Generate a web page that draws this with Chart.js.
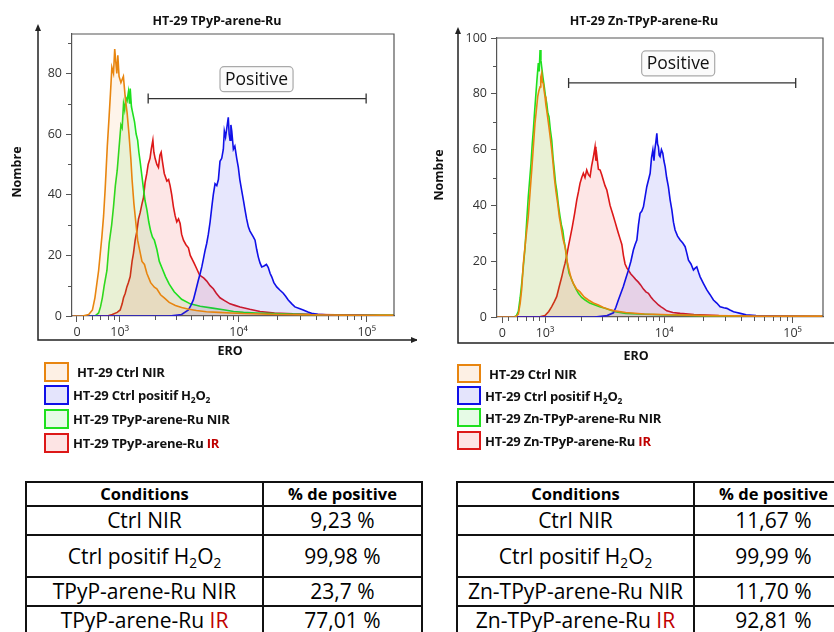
<!DOCTYPE html>
<html>
<head>
<meta charset="utf-8">
<script src="https://cdn.jsdelivr.net/npm/chart.js@4.4.1/dist/chart.umd.min.js"></script>
<style>
  body { margin:0; width:834px; height:632px; overflow:hidden; background:#fff; position:relative; font-family:'Open Sans', sans-serif; }
  canvas { position:absolute; top:0; }
  #c1 { left:0; }
  #c2 { left:417px; }
  .lg { position:absolute; display:flex; align-items:center; white-space:nowrap; font-weight:bold; font-size:13px; color:#111; letter-spacing:-0.2px; }
  .lg .sw { box-sizing:border-box; border:2px solid; margin-right:4px; }
  .ir { color:#c00000; }
  table.tb { position:absolute; border-collapse:collapse; table-layout:fixed; width:396px; }
  table.tb td, table.tb th { border:2px solid #111; padding:0; text-align:center; vertical-align:middle; white-space:nowrap; line-height:1; }
  table.tb th { font-size:16.5px; font-weight:bold; }
  table.tb td { font-size:21px; font-weight:normal; }
  sub { font-size:0.65em; vertical-align:-0.3em; line-height:0; }
</style>
</head>
<body>
<canvas id="c1" width="417" height="368"></canvas>
<canvas id="c2" width="417" height="368"></canvas>
<script>
// x axis is in display units of the cytometer's logicle scale (10^3 -> 3, 10^4 -> ~4, 10^5 -> ~5)
const xTickPos = [2.655, 3, 3.96, 4.995];
const xTickLabels = ['0', '10³', '10⁴', '10⁵'];
const yTicks1 = [0, 20, 40, 60, 80];
const yTicks2 = [0, 20, 40, 60, 80, 100];

const names1 = ['HT-29 Ctrl NIR', 'HT-29 Ctrl positif H<sub>2</sub>O<sub>2</sub>', 'HT-29 TPyP-arene-Ru NIR', 'HT-29 TPyP-arene-Ru <span class="ir">IR</span>'];
const names2 = ['HT-29 Ctrl NIR', 'HT-29 Ctrl positif H<sub>2</sub>O<sub>2</sub>', 'HT-29 Zn-TPyP-arene-Ru NIR', 'HT-29 Zn-TPyP-arene-Ru <span class="ir">IR</span>'];

const conditions1 = ['Ctrl NIR', 'Ctrl positif H<sub>2</sub>O<sub>2</sub>', 'TPyP-arene-Ru NIR', 'TPyP-arene-Ru <span class="ir">IR</span>'];
const positive1 = ['9,23 %', '99,98 %', '23,7 %', '77,01 %'];
const conditions2 = ['Ctrl NIR', 'Ctrl positif H<sub>2</sub>O<sub>2</sub>', 'Zn-TPyP-arene-Ru NIR', 'Zn-TPyP-arene-Ru <span class="ir">IR</span>'];
const positive2 = ['11,67 %', '99,99 %', '11,70 %', '92,81 %'];

// gate "Positive": [start, end, level], label centre [x, y]
const gate1 = [3.23, 4.99, 71.7], gateLabel1 = [4.105, 78.1];
const gate2 = [3.19, 5.02, 83.9], gateLabel2 = [4.073, 90.9];

// ---- chart 1 : HT-29 TPyP-arene-Ru ----
const ctrlNir1 = [[2.62,0],[2.70,0],[2.75,0.5],[2.78,2],[2.80,6],[2.83,15],[2.856,26],[2.87,33],[2.883,42],[2.90,56],[2.915,66],[2.925,73],[2.937,82],[2.95,80],[2.96,88],[2.968,84],[2.977,80],[2.985,86],[2.995,79],[3.01,77],[3.03,79],[3.045,72],[3.06,67],[3.075,60],[3.09,52],[3.10,45],[3.115,37],[3.13,31],[3.145,25],[3.16,22],[3.18,18],[3.20,17],[3.22,14],[3.25,11],[3.28,9.5],[3.30,9],[3.33,7],[3.36,6],[3.40,4.5],[3.45,3.5],[3.50,2.8],[3.55,2.3],[3.62,1.8],[3.70,1.4],[3.80,1.2],[3.90,1],[4.0,0.8],[4.2,0.6],[4.5,0.4],[4.8,0.3],[5.0,0.2],[5.22,0.2]];
const ctrlH2o2_1 = [[2.62,0],[3.40,0],[3.50,0.5],[3.555,2],[3.575,3.5],[3.595,5.3],[3.615,8.5],[3.635,11.8],[3.65,14],[3.663,16.2],[3.677,19],[3.69,21.7],[3.703,24],[3.716,27],[3.73,31],[3.744,36],[3.756,40],[3.77,43.6],[3.784,43],[3.797,45],[3.81,51],[3.824,52],[3.837,55],[3.845,61],[3.855,59],[3.865,62],[3.877,65.5],[3.884,60],[3.891,58],[3.898,63],[3.905,61],[3.918,55],[3.93,56],[3.945,52],[3.958,49],[3.97,45],[3.985,41.4],[4.0,38],[4.012,35],[4.025,32],[4.039,29.4],[4.052,28],[4.066,27],[4.08,26],[4.093,25],[4.106,22],[4.119,19.5],[4.133,17.5],[4.147,16.2],[4.165,16.5],[4.185,17],[4.2,16],[4.215,14],[4.227,13],[4.245,11],[4.268,9.6],[4.295,8.5],[4.321,7.5],[4.34,6.5],[4.361,5.3],[4.39,4],[4.415,3],[4.45,2.5],[4.482,2],[4.52,1.3],[4.55,0.9],[4.6,0.6],[4.7,0.3],[4.9,0.2],[5.22,0]];
const drugNir1 = [[2.62,0],[2.80,0],[2.83,1],[2.845,3],[2.86,6],[2.875,10],[2.897,15],[2.915,24],[2.935,30],[2.95,36],[2.965,43],[2.98,48],[2.99,53],[3.00,58],[3.01,63],[3.02,62],[3.031,70],[3.04,68],[3.05,72],[3.06,71],[3.071,74],[3.08,70],[3.085,75],[3.095,69],[3.105,67],[3.12,64],[3.133,60],[3.145,58],[3.155,54],[3.165,51],[3.18,46],[3.192,42],[3.205,38],[3.22,35],[3.235,31],[3.25,28],[3.265,26],[3.28,25],[3.30,22],[3.32,18],[3.34,16],[3.37,13],[3.40,10.5],[3.44,8],[3.50,5.5],[3.57,4],[3.65,3.2],[3.75,2.6],[3.85,2],[3.92,1.5],[4.0,1.2],[4.1,1],[4.3,0.7],[4.6,0.4],[4.9,0.2],[5.22,0.2]];
const drugIr1 = [[2.62,0],[2.90,0],[2.94,0.5],[2.98,1.2],[3.004,2],[3.02,4],[3.031,6],[3.045,7.5],[3.058,9.6],[3.07,11],[3.085,13],[3.10,18],[3.111,20.6],[3.125,25],[3.139,28],[3.152,32],[3.165,34],[3.18,37],[3.192,39],[3.205,44],[3.219,47],[3.23,50],[3.245,52],[3.255,55],[3.268,58],[3.276,54],[3.286,52],[3.30,50],[3.313,49],[3.325,53],[3.335,54],[3.345,51],[3.36,47],[3.381,44.5],[3.395,45],[3.407,43],[3.42,40],[3.434,36],[3.448,33],[3.461,31],[3.475,32],[3.488,30.5],[3.50,27],[3.515,25],[3.535,23.5],[3.555,22.5],[3.57,20],[3.582,19],[3.60,17.5],[3.623,15.5],[3.645,13.5],[3.663,13],[3.68,12.5],[3.703,11.5],[3.73,10],[3.756,9],[3.78,7.5],[3.81,6],[3.85,5],[3.891,4],[3.93,3.5],[3.972,3],[4.05,2.2],[4.133,1.5],[4.25,1],[4.4,0.7],[4.6,0.5],[4.9,0.3],[5.22,0.2]];

// ---- chart 2 : HT-29 Zn-TPyP-arene-Ru ----
const ctrlNir2 = [[2.61,0],[2.76,0],[2.785,1],[2.80,5],[2.812,10],[2.825,19],[2.845,28],[2.865,36],[2.88,45],[2.893,52.7],[2.906,61],[2.919,69.4],[2.93,74],[2.941,79],[2.95,81],[2.96,82.5],[2.966,86],[2.973,87.3],[2.98,84],[2.986,83.8],[2.993,81],[3.0,79],[3.007,76],[3.014,74],[3.023,71],[3.032,68],[3.043,64],[3.054,60],[3.065,55],[3.075,50],[3.088,45],[3.102,40.7],[3.115,36],[3.129,32.4],[3.145,28],[3.161,25.2],[3.178,20],[3.194,16.8],[3.21,14],[3.228,12],[3.255,10],[3.282,9],[3.315,7.2],[3.349,6.1],[3.39,5],[3.43,4.3],[3.47,3.4],[3.51,2.8],[3.56,2.2],[3.65,1.6],[3.8,1.1],[4.0,0.8],[4.3,0.5],[4.7,0.3],[5.24,0.3]];
const ctrlH2o2_2 = [[2.61,0],[3.40,0],[3.50,0.5],[3.551,1.5],[3.571,3.5],[3.591,6.1],[3.611,8.5],[3.631,10.9],[3.652,14],[3.672,16.8],[3.692,20],[3.712,24],[3.726,26],[3.74,27.6],[3.753,33],[3.766,37.2],[3.78,38],[3.793,39.5],[3.806,43],[3.82,46.7],[3.833,49],[3.847,51.5],[3.858,57],[3.869,59.9],[3.878,56],[3.885,60],[3.894,63],[3.901,65.8],[3.907,62],[3.914,61],[3.92,58],[3.927,57.5],[3.938,60],[3.949,58.7],[3.958,56],[3.968,53.9],[3.98,50],[3.994,46.7],[4.008,42],[4.022,38.4],[4.035,34],[4.048,31.2],[4.068,29],[4.089,27.6],[4.11,26.5],[4.129,25.2],[4.142,23],[4.156,20.4],[4.176,19],[4.196,16.8],[4.21,17.5],[4.223,18],[4.237,16],[4.25,14.4],[4.277,12],[4.304,9.7],[4.33,8],[4.357,6.1],[4.384,5],[4.411,3.7],[4.44,3.3],[4.465,3.1],[4.49,2.5],[4.519,1.9],[4.545,1.6],[4.573,1.3],[4.62,0.8],[4.7,0.5],[4.9,0.3],[5.24,0.2]];
const drugNir2 = [[2.61,0],[2.75,0],[2.77,0.5],[2.785,2],[2.80,7],[2.812,12],[2.825,18],[2.839,25],[2.852,34],[2.865,43],[2.876,49],[2.887,55],[2.897,62],[2.906,67],[2.915,73],[2.925,79],[2.935,85],[2.946,91],[2.953,88],[2.96,95.7],[2.967,92],[2.973,89.7],[2.983,86],[2.994,82.5],[3.004,79],[3.014,76.6],[3.023,73],[3.032,71.8],[3.043,67],[3.054,63.4],[3.065,57],[3.075,52.7],[3.085,48],[3.094,45.5],[3.108,40],[3.121,36],[3.132,33],[3.143,31],[3.155,27],[3.167,24],[3.18,19],[3.194,15.7],[3.21,14],[3.228,12],[3.25,10],[3.269,8.5],[3.295,7],[3.323,6.1],[3.36,5],[3.403,4.3],[3.44,3.7],[3.484,3.1],[3.53,2.4],[3.565,1.9],[3.65,1.3],[3.8,1],[4.0,0.7],[4.3,0.4],[4.7,0.2],[5.24,0.2]];
const drugIr2 = [[2.61,0],[2.95,0],[3.0,0.5],[3.03,2],[3.054,3.7],[3.075,5.5],[3.094,7.3],[3.115,11],[3.135,14.4],[3.148,17],[3.161,19.2],[3.175,22],[3.188,25.2],[3.205,29],[3.22,32.4],[3.238,37],[3.256,42],[3.27,45],[3.282,47.9],[3.296,50],[3.309,51.5],[3.322,50],[3.336,52.7],[3.35,51],[3.363,50.3],[3.375,54],[3.39,57.5],[3.403,61],[3.41,56],[3.417,58],[3.43,53],[3.444,52.7],[3.457,51],[3.47,49],[3.484,47],[3.498,45.5],[3.51,43],[3.524,40],[3.545,37],[3.565,34],[3.578,32],[3.591,30],[3.605,28],[3.619,26],[3.632,22],[3.645,19],[3.66,17.5],[3.672,16.8],[3.69,15.5],[3.712,14.4],[3.73,13.5],[3.752,12.5],[3.77,11.5],[3.793,10],[3.813,9],[3.833,8.5],[3.853,7.2],[3.873,6.1],[3.894,5.2],[3.914,4.3],[3.935,3.6],[3.954,3.1],[3.981,2.2],[4.03,1.6],[4.089,1.3],[4.2,0.9],[4.4,0.5],[4.7,0.3],[5.24,0.2]];

const lineColors = ['#e8850f', '#1010e8', '#1ee01e', '#dd1818'];
const fillColors = ['rgba(240,130,20,0.09)', 'rgba(40,40,240,0.11)', 'rgba(30,220,30,0.10)', 'rgba(240,30,30,0.11)'];
const swatchFills = ['#fdf0e4', '#e4e4fc', '#e6fbe6', '#fde4e4'];

Chart.defaults.font.family = "'Open Sans', sans-serif";
Chart.defaults.color = '#333';

function toXY(arr) { return arr.map(p => ({ x: p[0], y: p[1] })); }

function minorX() {
  // log-spaced minor ticks, plus a few in the linear part below 10^3
  const out = [2.70, 2.778, 2.845, 2.903, 2.954];
  for (let k = 2; k <= 9; k++) {
    out.push(3 + Math.log10(k) * (xTickPos[2] - 3));
    out.push(xTickPos[2] + Math.log10(k) * (xTickPos[3] - xTickPos[2]));
  }
  return out;
}

function decor(o) {
  return {
    id: 'decor',
    afterDatasetsDraw(chart) {
      const ctx = chart.ctx, xs = chart.scales.x, ys = chart.scales.y;
      const x0 = xs.getPixelForValue(o.gate[0]), x1 = xs.getPixelForValue(o.gate[1]);
      const gy = ys.getPixelForValue(o.gate[2]);
      ctx.save();
      ctx.strokeStyle = '#333';
      ctx.lineWidth = 1.3;
      ctx.beginPath();
      ctx.moveTo(x0, gy); ctx.lineTo(x1, gy);
      ctx.moveTo(x0, gy - 5); ctx.lineTo(x0, gy + 5);
      ctx.moveTo(x1, gy - 5); ctx.lineTo(x1, gy + 5);
      ctx.stroke();
      ctx.font = '17.5px "Open Sans"';
      const tw = ctx.measureText('Positive').width;
      const cx = xs.getPixelForValue(o.label[0]), cy = ys.getPixelForValue(o.label[1]);
      const w = tw + 10, h = 25;
      ctx.beginPath();
      ctx.roundRect(cx - w / 2, cy - h / 2, w, h, 4);
      ctx.fillStyle = '#fbfbfb';
      ctx.fill();
      ctx.strokeStyle = '#aaa';
      ctx.lineWidth = 1.2;
      ctx.stroke();
      ctx.fillStyle = '#111';
      ctx.textAlign = 'center';
      ctx.textBaseline = 'middle';
      ctx.fillText('Positive', cx, cy + 1);
      ctx.restore();
    },
    afterDraw(chart) {
      const ctx = chart.ctx, a = chart.chartArea, xs = chart.scales.x, ys = chart.scales.y;
      ctx.save();
      // top and right side of the plot frame
      ctx.strokeStyle = '#555';
      ctx.lineWidth = 1.2;
      ctx.beginPath();
      ctx.moveTo(a.left, a.top); ctx.lineTo(a.right, a.top); ctx.lineTo(a.right, a.bottom);
      ctx.stroke();
      // minor ticks
      ctx.lineWidth = 1;
      ctx.beginPath();
      minorX().forEach(v => {
        if (v < xs.min || v > xs.max) return;
        const px = Math.round(xs.getPixelForValue(v)) + 0.5;
        ctx.moveTo(px, a.bottom); ctx.lineTo(px, a.bottom + 4);
      });
      for (let v = 10; v < ys.max; v += 20) {
        const py = Math.round(ys.getPixelForValue(v)) + 0.5;
        ctx.moveTo(a.left, py); ctx.lineTo(a.left - 4, py);
      }
      ctx.stroke();
      // outer L axes with arrow heads
      ctx.strokeStyle = '#222';
      ctx.fillStyle = '#222';
      ctx.lineWidth = 1.5;
      ctx.beginPath();
      ctx.moveTo(o.axisX, o.axisTop + 4); ctx.lineTo(o.axisX, o.axisY); ctx.lineTo(o.axisRight, o.axisY);
      ctx.stroke();
      ctx.beginPath();
      ctx.moveTo(o.axisX, o.axisTop); ctx.lineTo(o.axisX - 3, o.axisTop + 7); ctx.lineTo(o.axisX + 3, o.axisTop + 7);
      ctx.closePath(); ctx.fill();
      if (o.arrowRight) {
        ctx.beginPath();
        ctx.moveTo(o.axisRight + 1, o.axisY); ctx.lineTo(o.axisRight - 6, o.axisY - 3); ctx.lineTo(o.axisRight - 6, o.axisY + 3);
        ctx.closePath(); ctx.fill();
      }
      // texts
      ctx.fillStyle = '#111';
      ctx.textAlign = 'center';
      ctx.textBaseline = 'middle';
      ctx.font = 'bold 12.5px "Open Sans"';
      ctx.fillText(o.title, o.titleX, 21);
      ctx.font = 'bold 12.5px "Open Sans"';
      ctx.fillText('ERO', o.eroX, o.eroY);
      ctx.translate(o.nomX, o.nomY);
      ctx.rotate(-Math.PI / 2);
      ctx.fillText('Nombre', 0, 0);
      ctx.restore();
    }
  };
}

function makeChart(id, sets, o) {
  const labels = ['HT-29 Ctrl NIR', 'HT-29 Ctrl positif H2O2', o.nirName, o.irName];
  new Chart(document.getElementById(id), {
    type: 'line',
    data: {
      datasets: sets.map((s, i) => ({
        label: labels[i],
        data: toXY(s),
        borderColor: lineColors[i],
        backgroundColor: fillColors[i],
        borderWidth: 1.6,
        fill: 'origin',
        pointRadius: 0,
        tension: 0
      }))
    },
    options: {
      responsive: false,
      animation: false,
      events: [],
      layout: { padding: { left: 0, top: o.top, right: o.padRight, bottom: 0 } },
      plugins: { legend: { display: false }, tooltip: { enabled: false } },
      scales: {
        x: {
          type: 'linear',
          min: o.xmin,
          max: o.xmax,
          afterBuildTicks: s => { s.ticks = xTickPos.map(v => ({ value: v })); },
          afterFit: s => { s.height = o.xh; },
          ticks: { callback: (v, i) => xTickLabels[i], autoSkip: false, maxRotation: 0, padding: 3, font: { size: 12.5 } },
          grid: { drawOnChartArea: false, tickLength: 6, color: '#555' },
          border: { color: '#555', width: 1.2 }
        },
        y: {
          min: 0,
          max: o.ymax,
          afterBuildTicks: s => { s.ticks = o.yTicks.map(v => ({ value: v })); },
          afterFit: s => { s.width = o.yw; },
          ticks: { padding: 4, font: { size: 12.5 } },
          grid: { drawOnChartArea: false, tickLength: 6, color: '#555' },
          border: { color: '#555', width: 1.2 }
        }
      }
    },
    plugins: [decor(o)]
  });
}

// canvas height is 368: x scale height = 368 - plot bottom
makeChart('c1', [ctrlNir1, ctrlH2o2_1, drugNir1, drugIr1], {
  nirName: 'HT-29 TPyP-arene-Ru NIR', irName: 'HT-29 TPyP-arene-Ru IR',
  top: 34, padRight: 23, yw: 72, xh: 52, xmin: 2.615, xmax: 5.215, ymax: 93, yTicks: yTicks1,
  gate: gate1, label: gateLabel1,
  title: 'HT-29 TPyP-arene-Ru', titleX: 217, eroX: 230, eroY: 351, nomX: 17, nomY: 172,
  axisX: 38, axisTop: 24, axisY: 340, axisRight: 417, arrowRight: true
});
makeChart('c2', [ctrlNir2, ctrlH2o2_2, drugNir2, drugIr2], {
  nirName: 'HT-29 Zn-TPyP-arene-Ru NIR', irName: 'HT-29 Zn-TPyP-arene-Ru IR',
  top: 38, padRight: 11, yw: 80, xh: 51, xmin: 2.613, xmax: 5.24, ymax: 100, yTicks: yTicks2,
  gate: gate2, label: gateLabel2,
  title: 'HT-29 Zn-TPyP-arene-Ru', titleX: 227, eroX: 219, eroY: 356, nomX: 22, nomY: 175,
  axisX: 41, axisTop: 27, axisY: 343, axisRight: 417, arrowRight: false
});

// legends
function legend(names, left, tops, sw) {
  names.forEach((n, i) => {
    const d = document.createElement('div');
    d.className = 'lg';
    d.style.left = left + 'px';
    d.style.top = tops[i] + 'px';
    d.style.height = sw[1] + 'px';
    d.innerHTML = '<span class="sw" style="width:' + sw[0] + 'px;height:' + sw[1] + 'px;border-color:' +
      lineColors[i] + ';background:' + swatchFills[i] + '"></span>' +
      (i === 0 ? '<span style="margin-left:4px">' + n + '</span>' : '<span>' + n + '</span>');
    document.body.appendChild(d);
  });
}
legend(names1, 44, [362, 385, 409, 433], [25, 20]);
legend(names2, 457, [364, 386, 408, 431], [24, 19]);

// tables
function table(left, conds, vals) {
  const t = document.createElement('table');
  t.className = 'tb';
  t.style.left = left + 'px';
  t.style.top = '481px';
  const hs = [29, 42, 29, 29];
  let h = '<colgroup><col style="width:237px"><col style="width:159px"></colgroup>';
  h += '<tr style="height:24px"><th>Conditions</th><th>% de positive</th></tr>';
  conds.forEach((c, i) => {
    h += '<tr style="height:' + hs[i] + 'px"><td>' + c + '</td><td>' + vals[i] + '</td></tr>';
  });
  t.innerHTML = h;
  document.body.appendChild(t);
}
table(25, conditions1, positive1);
table(456, conditions2, positive2);
</script>
</body>
</html>
